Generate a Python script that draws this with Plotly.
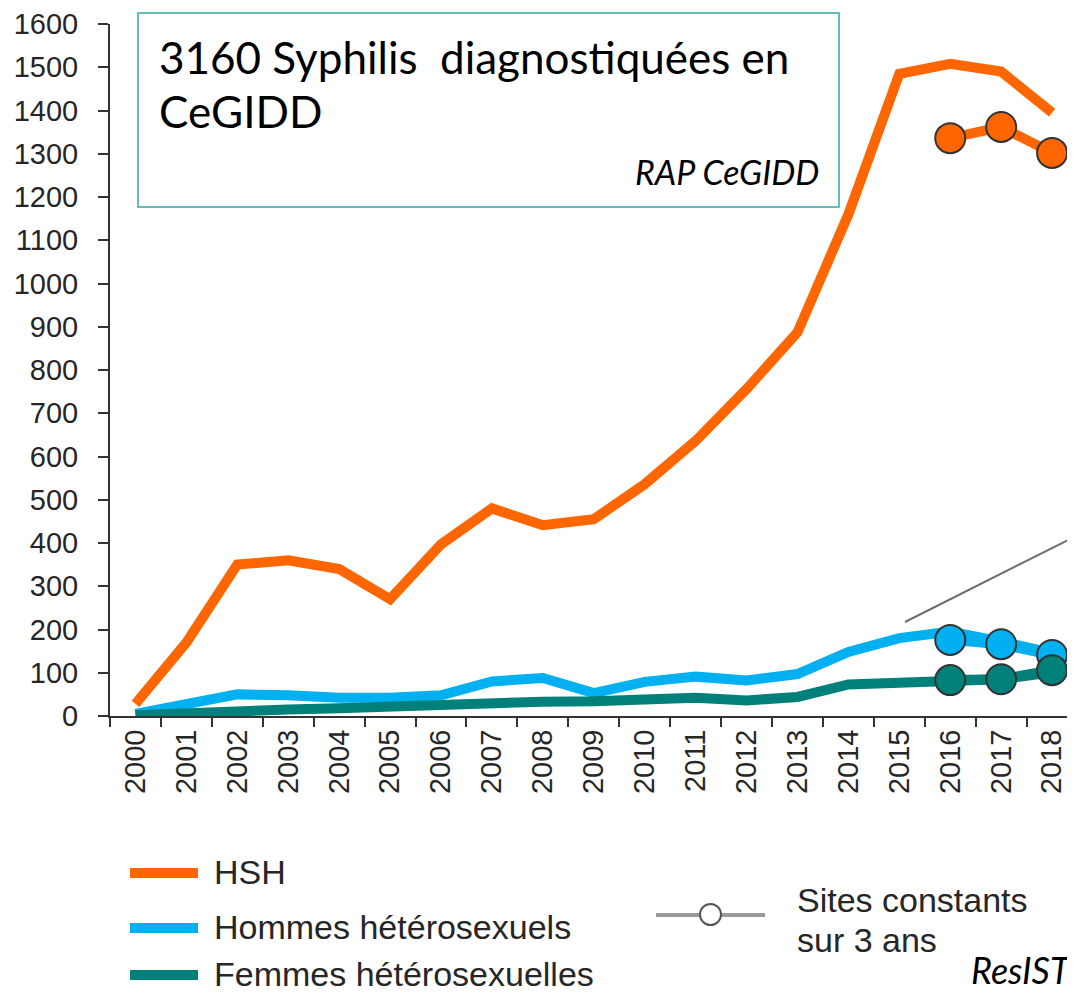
import plotly.graph_objects as go

# ---------------- data ----------------
years = [str(y) for y in range(2000, 2019)]
hsh = [28, 170, 350, 360, 340, 270, 397, 480, 441, 455, 536, 636, 756, 887, 1160, 1485, 1508, 1490, 1395]
hommes_het = [5, 25, 50, 48, 42, 42, 48, 80, 88, 53, 79, 91, 82, 97, 148, 180, 195, 172, 146]
femmes_het = [2, 8, 12, 15, 18, 22, 28, 32, 33, 34, 38, 42, 36, 44, 73, 78, 81, 85, 101]

const_years = ["2016", "2017", "2018"]
hsh_const = [1336, 1362, 1302]
hommes_const = [176, 166, 141]
femmes_const = [83, 85, 106]

y_ticks = list(range(0, 1700, 100))

ORANGE = "#FF6600"
BLUE = "#00B0F0"
TEAL = "#00807A"
TXT = "#262626"

# ---------------- geometry helpers (screen pixels -> paper) ----------------
OFF = 8  # page body margin
W, H = 1075 - OFF, 993 - OFF
ML, MR, MT, MB = 110 - OFF, 0, 24 - OFF, 993 - 716
PW, PH = W - ML - MR, H - MT - MB


def px(x):
    return (x - OFF - ML) / PW


def py(y):
    return (716 - y) / PH


fig = go.Figure()

for vals, col in [(hsh, ORANGE), (hommes_het, BLUE), (femmes_het, TEAL)]:
    fig.add_trace(go.Scatter(x=years, y=vals, mode="lines",
                             line=dict(color=col, width=10), showlegend=False,
                             hoverinfo="x+y"))

for vals, col in [(hsh_const, ORANGE), (hommes_const, BLUE), (femmes_const, TEAL)]:
    fig.add_trace(go.Scatter(x=const_years, y=vals, mode="lines+markers",
                             line=dict(color=col, width=10),
                             marker=dict(size=30, color=col, line=dict(color="#333333", width=2)),
                             showlegend=False, hoverinfo="x+y"))

shapes = []
annotations = []

# Text box
shapes.append(dict(type="rect", xref="paper", yref="paper",
                   x0=px(138), x1=px(839), y0=py(207), y1=py(13),
                   line=dict(color="#36A6A2", width=1.5), fillcolor="white", layer="above"))
annotations.append(dict(xref="paper", yref="paper", x=px(157), y=py(57), xanchor="left", yanchor="middle",
                        text="3160 Syphilis  diagnostiquées en", showarrow=False,
                        font=dict(family="Lato", size=44, color="black")))
annotations.append(dict(xref="paper", yref="paper", x=px(157), y=py(111), xanchor="left", yanchor="middle",
                        text="CeGIDD", showarrow=False,
                        font=dict(family="Lato", size=44, color="black")))
annotations.append(dict(xref="paper", yref="paper", x=px(821), y=py(172), xanchor="right", yanchor="middle",
                        text="<i>RAP CeGIDD</i>", showarrow=False,
                        font=dict(family="Lato", size=34, color="black")))

# pointer line
shapes.append(dict(type="line", xref="paper", yref="paper",
                   x0=px(905), y0=py(622), x1=px(1078), y1=py(535),
                   line=dict(color="#6E6E6E", width=2)))

# Legend (manual)
for yy, col, label in [(873, ORANGE, "HSH"), (928, BLUE, "Hommes hétérosexuels"),
                       (975, TEAL, "Femmes hétérosexuelles")]:
    shapes.append(dict(type="line", xref="paper", yref="paper",
                       x0=px(130), x1=px(198), y0=py(yy), y1=py(yy),
                       line=dict(color=col, width=10)))
    annotations.append(dict(xref="paper", yref="paper", x=px(212), y=py(yy - 1), xanchor="left",
                            yanchor="middle", text=label, showarrow=False,
                            font=dict(family="Liberation Sans", size=34, color=TXT)))

shapes.append(dict(type="line", xref="paper", yref="paper",
                   x0=px(656), x1=px(765), y0=py(915), y1=py(915),
                   line=dict(color="#9A9A9A", width=4)))
shapes.append(dict(type="circle", xref="paper", yref="paper",
                   x0=px(700), x1=px(721), y0=py(925), y1=py(904),
                   line=dict(color="#555555", width=2), fillcolor="white"))
for yy, label in [(900, "Sites constants"), (940, "sur 3 ans")]:
    annotations.append(dict(xref="paper", yref="paper", x=px(795), y=py(yy), xanchor="left",
                            yanchor="middle", align="left", text=label,
                            showarrow=False,
                            font=dict(family="Liberation Sans", size=34, color=TXT)))

annotations.append(dict(xref="paper", yref="paper", x=px(1073), y=py(970), xanchor="right",
                        yanchor="middle", text="<i>ResIST</i>", showarrow=False,
                        font=dict(family="Lato", size=36, color="black")))

fig.update_layout(
    width=W, height=H, autosize=False,
    margin=dict(l=ML, r=MR, t=MT, b=MB, pad=0),
    paper_bgcolor="white", plot_bgcolor="white",
    shapes=shapes, annotations=annotations,
    showlegend=False,
)

fig.update_xaxes(type="category", range=[-0.5, 18.45], tickson="boundaries",
                 ticks="outside", ticklen=9, tickwidth=2, tickcolor="#333333",
                 showline=True, linecolor="#333333", linewidth=2,
                 showgrid=False, zeroline=False, tickangle=-90,
                 tickfont=dict(family="Liberation Sans", size=29, color=TXT))

fig.update_yaxes(range=[0, 1600], tickvals=y_ticks, ticktext=[str(v) for v in y_ticks],
                 ticks="outside", ticklen=10, tickwidth=2, tickcolor="#333333",
                 showline=True, linecolor="#333333", linewidth=2,
                 showgrid=False, zeroline=False, ticklabelstandoff=14,
                 tickfont=dict(family="Liberation Sans", size=29, color=TXT))

fig.write_html("out.html")
